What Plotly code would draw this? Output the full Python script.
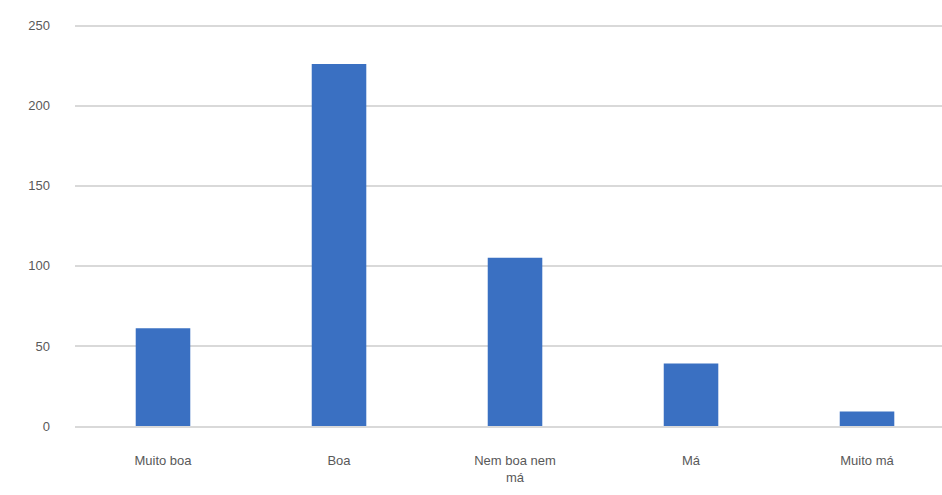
import plotly.graph_objects as go

categories = ["Muito boa", "Boa", "Nem boa nem<br>má", "Má", "Muito má"]
values = [61, 226, 105, 39, 9]
y_ticks = [0, 50, 100, 150, 200, 250]

fig = go.Figure(go.Bar(
    x=categories, y=values,
    marker=dict(color="#3A70C2", line=dict(width=0)),
    width=0.31,
))

fig.update_layout(
    width=942, height=495,
    margin=dict(l=75, r=0, t=22, b=69),
    plot_bgcolor="white", paper_bgcolor="white",
    showlegend=False,
    font=dict(family="Liberation Sans, Arial", size=13, color="#595959"),
)
fig.update_yaxes(
    range=[0, 252.3], tickvals=y_ticks,
    showgrid=True, gridcolor="#D9D9D9", gridwidth=1.5,
    zeroline=False, showline=False, ticks="",
    ticklabelstandoff=24,
)
fig.update_xaxes(
    range=[-0.5, 4.426],
    showline=True, linecolor="#D9D9D9", linewidth=1.5,
    ticks="", ticklabelstandoff=22, tickangle=0,
)

fig.write_html("out.html")
